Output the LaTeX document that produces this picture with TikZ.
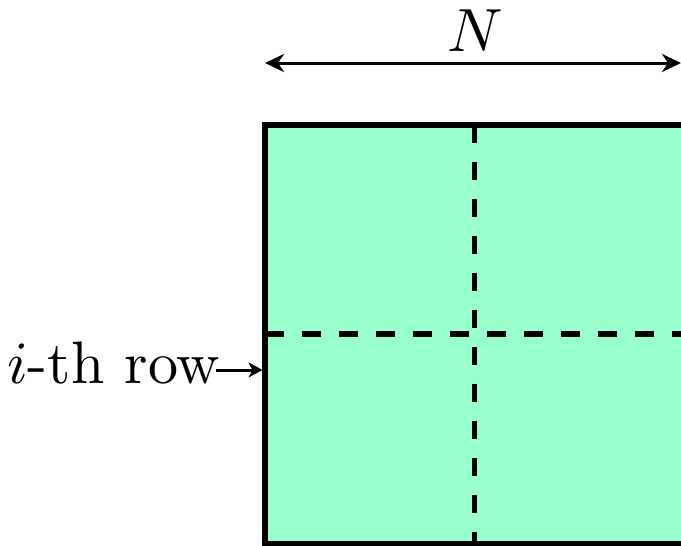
\documentclass[tikz,border=0pt]{standalone}
\usepackage{graphicx}
\usetikzlibrary{arrows.meta}
\definecolor{mint}{RGB}{153,255,204}
\begin{document}
\begin{tikzpicture}[x=1pt,y=-1pt,
  box/.style={draw=black,fill=mint,line width=6pt,minimum width=419pt,minimum height=419pt,inner sep=0pt,outer sep=0pt},
  divider/.style={line width=5.5pt,dash pattern=on 18.5pt off 18.5pt},
  dim/.style={line width=3pt,{Stealth[length=19pt,width=18pt,inset=6pt]}-{Stealth[length=19pt,width=18pt,inset=6pt]}},
  pointer/.style={line width=3pt,-{Stealth[length=14pt,width=15pt,inset=4pt]}},
  lab/.style={inner sep=0pt}]
\useasboundingbox (0,0) rectangle (681,546);
\node[box] (sq) at (474.5,334) {};
\draw[divider] (sq.north) -- (sq.south);
\draw[divider] (sq.west) -- (sq.east);
\coordinate (dl) at (265,63);
\coordinate (dr) at (681,63);
\draw[dim] (dl) -- (dr);
\node[lab] (N) at (475,31) {\scalebox{6.1}{$N$}};
\node[lab,anchor=base west] (row) at (7,383) {\scalebox{6}{$i$-th row}};
\coordinate (ps) at (216,370);
\coordinate (pe) at (262.5,370);
\draw[pointer] (ps) -- (pe);
\end{tikzpicture}
\end{document}
